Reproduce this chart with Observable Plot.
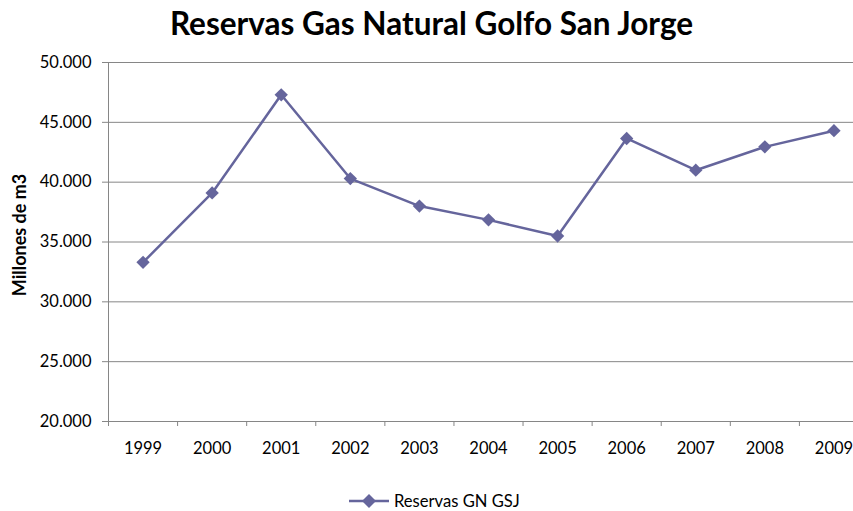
<!DOCTYPE html>
<html>
<head>
<meta charset="utf-8">
<script src="https://cdn.jsdelivr.net/npm/d3@7"></script>
<script src="https://cdn.jsdelivr.net/npm/@observablehq/plot@0.6"></script>
<style>
  html, body { margin: 0; padding: 0; background: #fff; overflow: hidden; }
  #wrap { position: relative; width: 853px; height: 511px; overflow: hidden; background: #fff; font-family: Lato, sans-serif; }
  #title { position: absolute; top: 5px; left: 10px; width: 843px; text-align: center; font-weight: bold; font-size: 31.5px; line-height: 1.2; color: #000; white-space: nowrap; }
  #chart { position: absolute; top: 50px; left: 0; width: 868px; }
  #chart svg { max-width: none; }
  #legend { position: absolute; top: 490px; left: 349px; height: 21px; display: flex; align-items: center; font-size: 16.6px; color: #000; white-space: nowrap; }
  #legend svg { margin-right: 5px; }
</style>
</head>
<body>
<div id="wrap">
  <div id="title">Reservas Gas Natural Golfo San Jorge</div>
  <div id="chart"></div>
  <div id="legend"></div>
</div>
<script>
const years = [1999, 2000, 2001, 2002, 2003, 2004, 2005, 2006, 2007, 2008, 2009];
const reservas = [33300, 39100, 47300, 40300, 38000, 36850, 35500, 43650, 41000, 42950, 44300];
const yTicks = [20000, 25000, 30000, 35000, 40000, 45000, 50000];
const seriesName = "Reservas GN GSJ";
const yLabel = "Millones de m3";

const lineColor = "#65659c";
const gray = "#868686";

const rows = years.map((year, i) => ({year, value: reservas[i]}));
const boundaries = years.map(y => y - 0.5);
const fmt = d => d3.format(",")(d).replace(/,/g, ".");

const chart = Plot.plot({
  width: 868,
  height: 420,
  marginTop: 12,
  marginBottom: 49,
  marginLeft: 108,
  marginRight: 0,
  style: {fontFamily: "Lato, sans-serif", fontSize: "16.5px", background: "#fff", color: "#000", maxWidth: "none"},
  x: {type: "linear", domain: [years[0] - 0.5, years[years.length - 1] + 0.5]},
  y: {domain: [yTicks[0], yTicks[yTicks.length - 1]]},
  marks: [
    Plot.gridY(yTicks, {stroke: gray, strokeOpacity: 1, strokeWidth: 1}),
    Plot.ruleX([boundaries[0]], {stroke: gray, strokeWidth: 1}),
    Plot.axisY(yTicks, {tickSize: 6, tickPadding: 11, tickFormat: fmt, stroke: gray, fill: "#000", label: null, fontSize: 16.5}),
    Plot.axisX(boundaries, {tickSize: 5, tickFormat: () => "", stroke: gray, label: null}),
    Plot.axisX(years, {tickSize: 0, tickPadding: 21, tickFormat: d => String(d), fill: "#000", label: null, fontSize: 16.5}),
    Plot.text([yLabel], {text: d => d, frameAnchor: "left", rotate: -90, dx: -88, dy: -7, fontWeight: "bold", fontSize: 18, fill: "#000", textAnchor: "middle"}),
    Plot.line(rows, {x: "year", y: "value", stroke: lineColor, strokeWidth: 2.5}),
    Plot.dot(rows, {x: "year", y: "value", symbol: "diamond2", r: 6, fill: lineColor, stroke: "none"})
  ]
});
document.getElementById("chart").appendChild(chart);

const legend = document.getElementById("legend");
legend.innerHTML = `<svg width="40" height="16" viewBox="0 0 40 16"><line x1="0" y1="8" x2="40" y2="8" stroke="${lineColor}" stroke-width="2.5"/><path d="M20,1 L27,8 L20,15 L13,8 Z" fill="${lineColor}"/></svg><span>${seriesName}</span>`;
</script>
</body>
</html>
